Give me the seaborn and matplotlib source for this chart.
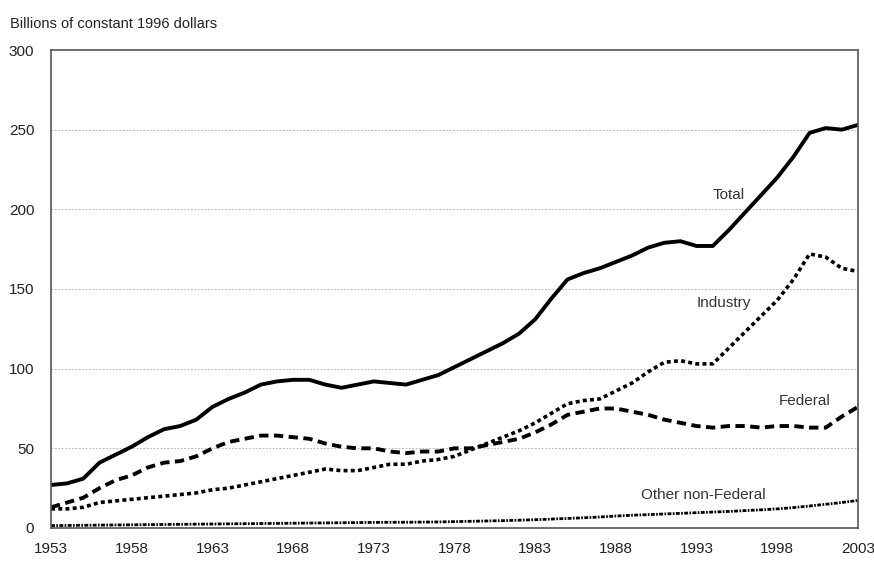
import numpy as np
import pandas as pd
import matplotlib
matplotlib.use("Agg")
import matplotlib.pyplot as plt
from matplotlib.ticker import MultipleLocator
import seaborn as sns

years = list(range(1953, 2004))

total = [27, 28, 31, 41, 46, 51, 57, 62, 64, 68, 76, 81, 85, 90, 92, 93, 93, 90, 88, 90,
         92, 91, 90, 93, 96, 101, 106, 111, 116, 122, 131, 144, 156, 160, 163, 167, 171, 176, 179, 180,
         177, 177, 187, 198, 209, 220, 233, 248, 251, 250, 253]

industry = [12, 12, 13, 16, 17, 18, 19, 20, 21, 22, 24, 25, 27, 29, 31, 33, 35, 37, 36, 36,
            38, 40, 40, 42, 43, 45, 49, 53, 57, 61, 66, 72, 78, 80, 81, 86, 91, 98, 104, 105,
            103, 103, 113, 123, 133, 143, 156, 172, 170, 163, 161]

federal = [13, 16, 19, 25, 30, 33, 38, 41, 42, 45, 50, 54, 56, 58, 58, 57, 56, 53, 51, 50,
           50, 48, 47, 48, 48, 50, 50, 52, 54, 56, 60, 65, 71, 73, 75, 75, 73, 71, 68, 66,
           64, 63, 64, 64, 63, 64, 64, 63, 63, 70, 76]

other = [1.5, 1.6, 1.7, 1.8, 1.9, 2.0, 2.1, 2.2, 2.3, 2.4, 2.5, 2.6, 2.7, 2.8, 2.9, 3.0, 3.1, 3.2, 3.3, 3.4,
         3.5, 3.6, 3.6, 3.7, 3.8, 4.0, 4.2, 4.4, 4.6, 4.9, 5.2, 5.6, 6.0, 6.4, 6.9, 7.5, 8.0, 8.4, 8.8, 9.2,
         9.6, 10.0, 10.4, 10.9, 11.4, 12.0, 12.8, 13.8, 14.9, 16.0, 17.3]

series_names = ["Total", "Industry", "Federal", "Other non-Federal"]

df = pd.DataFrame({
    "Year": years * 4,
    "Value": total + industry + federal + other,
    "Series": sum([[s] * len(years) for s in series_names], []),
})

sns.set_style("white")
plt.rcParams["font.family"] = ["Liberation Sans", "DejaVu Sans"]

fig = plt.figure(figsize=(8.74, 5.67), dpi=100)
ax = fig.add_axes([0.0584, 0.0688, 0.9233, 0.843])

styles = {
    "Total": dict(linestyle="-", linewidth=2.8),
    "Industry": dict(linestyle=(0, (1.1, 0.9)), linewidth=2.6),
    "Federal": dict(linestyle=(0, (2.4, 1.4)), linewidth=2.8),
    "Other non-Federal": dict(linestyle=(0, (1.4, 0.5, 0.6, 0.5)), linewidth=2.0),
}

for name in series_names:
    sns.lineplot(data=df[df["Series"] == name], x="Year", y="Value", ax=ax,
                 color="black", dash_capstyle="butt", solid_capstyle="round",
                 **styles[name])

ax.set_xlim(1953, 2003)
ax.set_ylim(0, 300)
ax.set_xticks(list(range(1953, 2004, 5)))
ax.xaxis.set_minor_locator(MultipleLocator(1))
ax.set_yticks([0, 50, 100, 150, 200, 250, 300])
ax.yaxis.set_minor_locator(MultipleLocator(10))
ax.tick_params(axis="both", which="major", direction="in", length=7, width=0.8,
               colors="#555555", labelcolor="#222222", labelsize=11)
ax.tick_params(axis="both", which="minor", direction="in", length=4, width=0.8,
               colors="#555555")
ax.tick_params(axis="x", pad=10)
ax.tick_params(axis="y", pad=12)

for g in [50, 100, 150, 200, 250]:
    ax.axhline(g, color="#bbbbbb", linestyle=(0, (2, 1.5)), linewidth=0.7, zorder=0)

for sp in ax.spines.values():
    sp.set_color("#555555")
    sp.set_linewidth(1.2)

ax.set_xlabel("")
ax.set_ylabel("")

fig.text(0.012, 0.958, "Billions of constant 1996 dollars", fontsize=10.5, color="#222222",
         ha="left", va="center")

ax.text(1995.0, 209, "Total", fontsize=11, color="#333333", ha="center", va="center")
ax.text(1994.7, 141, "Industry", fontsize=11, color="#333333", ha="center", va="center")
ax.text(1999.7, 80, "Federal", fontsize=11, color="#333333", ha="center", va="center")
ax.text(1993.4, 21, "Other non-Federal", fontsize=11, color="#333333", ha="center", va="center")

fig.savefig("out.png", dpi=100)
